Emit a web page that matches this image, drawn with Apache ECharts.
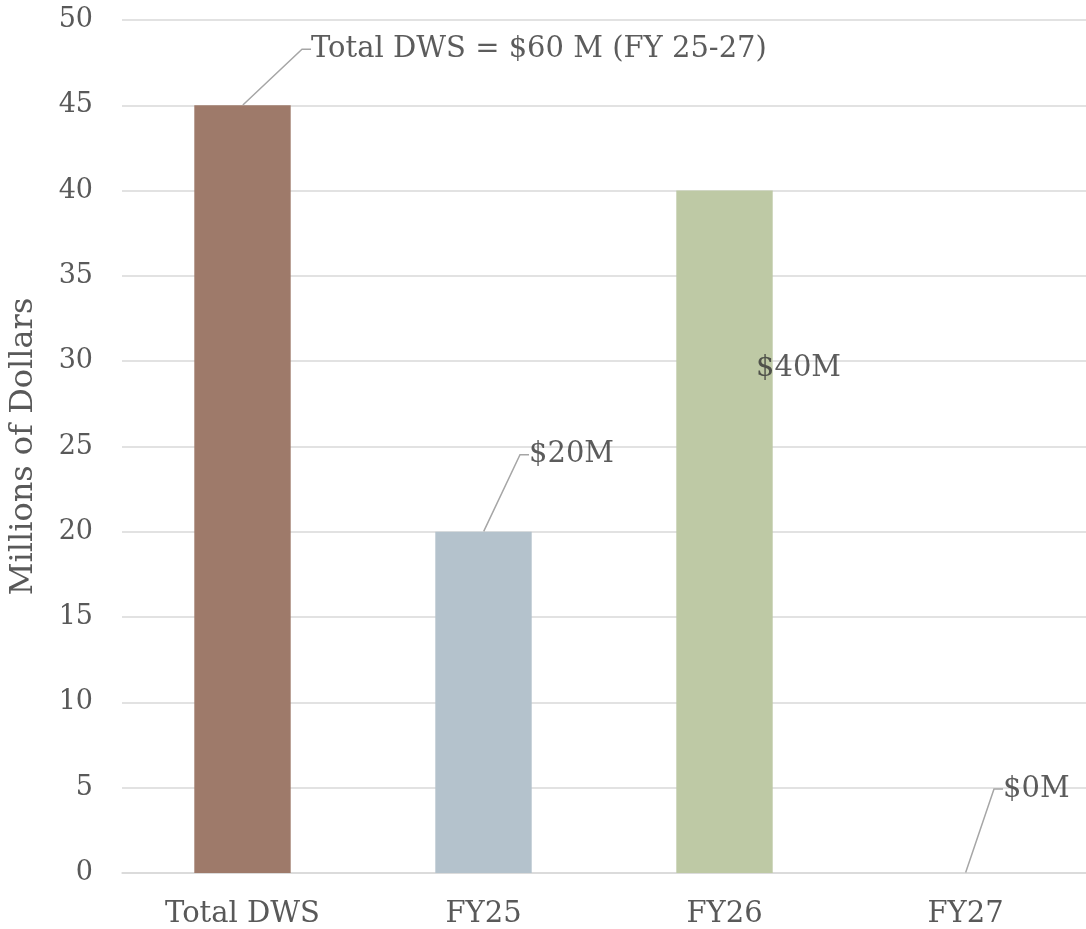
<!DOCTYPE html>
<html>
<head>
<meta charset="utf-8">
<script src="https://cdn.jsdelivr.net/npm/echarts@6/dist/echarts.min.js"></script>
<style>
  html, body { margin: 0; padding: 0; background: #fff; }
  #chart { width: 1086px; height: 929px; }
</style>
</head>
<body>
<div id="chart"></div>
<script>
// data
var categories = ['Total DWS', 'FY25', 'FY26', 'FY27'];
var values = [45, 20, 40, 0];
var labelTexts = ['Total DWS = $60 M (FY 25-27)', '$20M', '$40M', '$0M'];
var yTicks = [0, 5, 10, 15, 20, 25, 30, 35, 40, 45, 50];

var barColors = ['#9E7A6A', '#B4C2CC', '#BEC9A5', '#9E7A6A'];
// where each callout text sits relative to its bar top (px)
var labelShift = [[68, -56], [45, -77], [31, 178], [37, -84]];
var showLeader = [true, true, false, true];

var font = 'DejaVu Serif';

var chart = echarts.init(document.getElementById('chart'));

var option = {
    animation: false,
    grid: { left: 120, right: -6, top: 20, bottom: 56, containLabel: false },
    xAxis: {
        type: 'category',
        data: categories,
        axisLine: { lineStyle: { color: '#d9d9d9', width: 1.5 } },
        axisTick: { show: false },
        axisLabel: { color: '#595959', fontFamily: font, fontSize: 29, margin: 27 }
    },
    yAxis: {
        type: 'value',
        min: yTicks[0],
        max: yTicks[yTicks.length - 1],
        interval: 5,
        name: 'Millions of Dollars',
        nameLocation: 'middle',
        nameGap: 82,
        nameRotate: 90,
        nameTextStyle: { color: '#595959', fontFamily: font, fontSize: 32 },
        axisLine: { show: false },
        axisTick: { show: false },
        axisLabel: { color: '#595959', fontFamily: font, fontSize: 27, margin: 29 },
        splitLine: { lineStyle: { color: '#d9d9d9', width: 1.5 } }
    },
    series: [
        {
            type: 'bar',
            barWidth: '40%',
            silent: true,
            data: values.map(function (v, i) {
                return { value: v, itemStyle: { color: barColors[i] } };
            })
        },
        {
            // invisible anchors at the bar tops carry the callouts
            type: 'scatter',
            symbolSize: 1,
            silent: true,
            itemStyle: { color: 'rgba(0,0,0,0)' },
            data: values.map(function (v, i) {
                return {
                    value: v,
                    label: { formatter: labelTexts[i] },
                    labelLine: { show: showLeader[i] }
                };
            }),
            label: {
                show: true,
                position: 'right',
                distance: 0,
                padding: 0,
                color: '#333333',
                fontFamily: font,
                fontSize: 29
            },
            labelLine: {
                show: true,
                length2: 9,
                lineStyle: { color: '#a6a6a6', width: 1.5 }
            },
            labelLayout: function (params) {
                var s = labelShift[params.dataIndex];
                return { dx: s[0], dy: s[1] };
            }
        }
    ]
};

chart.setOption(option);
</script>
</body>
</html>
